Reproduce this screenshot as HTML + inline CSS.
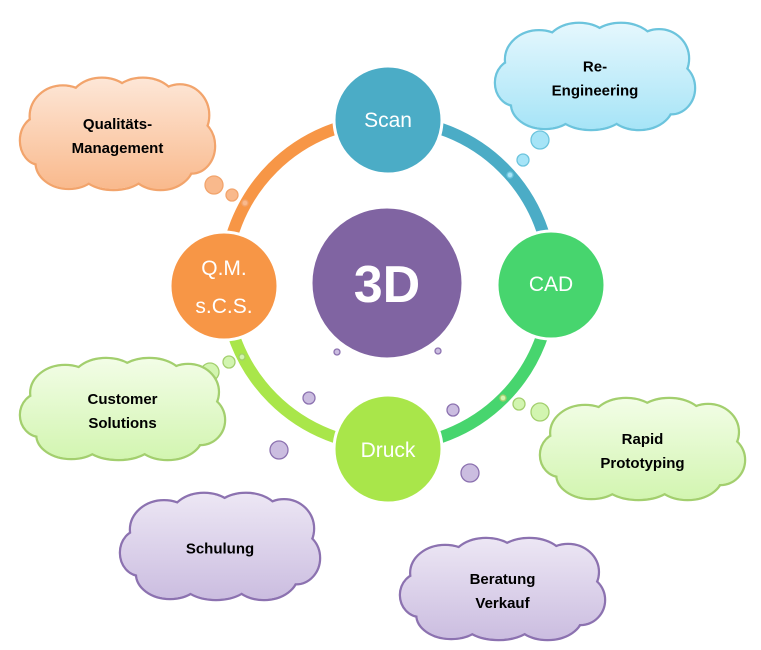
<!DOCTYPE html>
<html><head><meta charset="utf-8"><style>
html,body{margin:0;padding:0;background:#fff;}
svg{display:block;}
</style></head><body>
<svg id="s" width="761" height="650" viewBox="0 0 761 650" xmlns="http://www.w3.org/2000/svg" font-family="Liberation Sans, sans-serif">
<defs id="defs"></defs>
<g fill="none" stroke-width="12">
<path d="M388 120 A163 163 0 0 1 551 283" stroke="#4BACC6"/>
<path d="M551 283 A163 163 0 0 1 388 446" stroke="#47D56E"/>
<path d="M388 446 A163 163 0 0 1 225 283" stroke="#A9E64A"/>
<path d="M225 283 A163 163 0 0 1 388 120" stroke="#F79646"/>
</g>
<g stroke="#fff" stroke-width="3">
<circle cx="388" cy="120" r="54" fill="#4BACC6"/>
<circle cx="551" cy="285" r="54" fill="#47D56E"/>
<circle cx="388" cy="449" r="54" fill="#A9E64A"/>
<circle cx="224" cy="286" r="54" fill="#F79646"/>
<circle cx="387" cy="283" r="76" fill="#8064A2"/>
</g>
<g fill="#fff" text-anchor="middle" font-size="21">
<text x="388" y="127">Scan</text>
<text x="551" y="291">CAD</text>
<text x="388" y="457">Druck</text>
<text x="224" y="275">Q.M.</text>
<text x="224" y="313">s.C.S.</text>
<text x="387" y="302" font-size="52" font-weight="bold">3D</text>
</g>
<g id="clouds"></g>
</svg>
<script>
var g=document.getElementById('clouds'),d=document.getElementById('defs'),NS='http://www.w3.org/2000/svg',n=0;
function el(p,t,a){var e=document.createElementNS(NS,t);for(var k in a)e.setAttribute(k,a[k]);p.appendChild(e);return e;}
var E=[[.22,.33,.17,.28],[.42,.22,.17,.24],[.63,.2,.17,.22],[.82,.32,.15,.28],[.88,.6,.12,.25],[.72,.76,.17,.24],[.48,.8,.18,.2],[.25,.75,.17,.24],[.1,.55,.1,.22],[.5,.5,.38,.32]];
function cloud(x,y,w,h,c1,c2,stroke,lines,bub){
 var id='c'+(n++);
 var lg=el(d,'linearGradient',{id:id,gradientUnits:'userSpaceOnUse',x1:0,y1:y,x2:0,y2:y+h});
 el(lg,'stop',{offset:0,'stop-color':c1});el(lg,'stop',{offset:1,'stop-color':c2});
 var f='url(#'+id+')';
 bub.forEach(function(b){el(g,'circle',{cx:b[0],cy:b[1],r:b[2],fill:c2,stroke:stroke,'stroke-width':1.3});});
 E.forEach(function(e){el(g,'ellipse',{cx:x+e[0]*w,cy:y+e[1]*h,rx:e[2]*w,ry:e[3]*h,fill:'none',stroke:stroke,'stroke-width':2.5});});
 E.forEach(function(e){el(g,'ellipse',{cx:x+e[0]*w,cy:y+e[1]*h,rx:e[2]*w-1,ry:e[3]*h-1,fill:f});});
 var cy=y+h/2-(lines.length-1)*12;
 lines.forEach(function(l,i){var t=el(g,'text',{x:x+w/2,y:cy+i*24+6,'text-anchor':'middle','font-size':15,'font-weight':'bold',fill:'#000'});t.textContent=l;});
}
cloud(495,25,200,105,'#e4f7fd','#a6e4f7','#6cc4dd',['Re-','Engineering'],[[540,140,9],[523,160,6],[510,175,3]]);
cloud(20,80,195,110,'#fde6d6','#f9b98c','#f2a46c',['Qualitäts-','Management'],[[214,185,9],[232,195,6],[245,203,3]]);
cloud(20,360,205,100,'#f2fde6','#d2f5b0','#a3cf6e',['Customer','Solutions'],[[210,372,9],[229,362,6],[242,357,3]]);
cloud(540,400,205,100,'#f2fde6','#d2f5b0','#a3cf6e',['Rapid','Prototyping'],[[540,412,9],[519,404,6],[503,398,3]]);
cloud(120,495,200,105,'#ece6f4','#cbbde0','#8c72b0',['Schulung'],[[279,450,9],[309,398,6],[337,352,3]]);
cloud(400,540,205,100,'#ece6f4','#cbbde0','#8c72b0',['Beratung','Verkauf'],[[470,473,9],[453,410,6],[438,351,3]]);
</script>
</body></html>
